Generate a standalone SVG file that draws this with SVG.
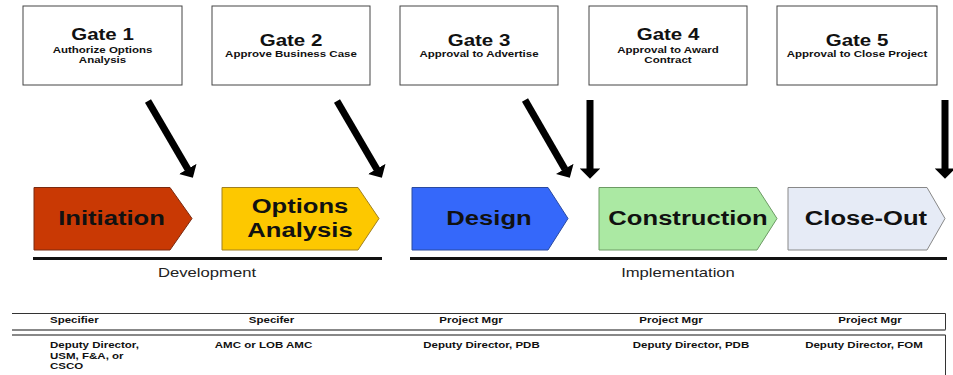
<svg xmlns="http://www.w3.org/2000/svg" width="953" height="375" viewBox="0 0 953 375">
<style>
text{font-family:"Liberation Sans",Arial,sans-serif;fill:#111}
.gbox{fill:#fff;stroke:#444;stroke-width:1}
.gt{font-size:16px;font-weight:bold;text-anchor:middle}
.gs{font-size:9px;font-weight:bold;text-anchor:middle}
.pl{font-size:20px;font-weight:bold;text-anchor:middle}
.bar{stroke:#111;stroke-width:3}
.bl{font-size:13px;text-anchor:middle;fill:#222}
.arr{stroke:#000;stroke-width:7;fill:none;marker-end:url(#ah)}
.tb{font-size:9px;font-weight:bold}
.tm{text-anchor:middle}
.tl{fill:none;stroke:#333;stroke-width:1}
.tg{fill:none;stroke:#888;stroke-width:1.8}
</style>
<defs>
<marker id="ah" viewBox="0 0 10 20" markerWidth="1.5" markerHeight="2.9" refX="0.5" refY="10" orient="auto" markerUnits="strokeWidth">
<path d="M0,0 L10,10 L0,20 z" fill="#000"/>
</marker>
</defs>
<rect width="953" height="375" fill="#fff"/>

<g id="gate1">
<rect class="gbox" x="23" y="6" width="159" height="79"/>
<text class="gt" transform="translate(102.5 40) scale(1.28 1)">Gate 1</text>
<text class="gs" transform="translate(102.5 52.5) scale(1.28 1)">Authorize Options</text>
<text class="gs" transform="translate(102.5 62.5) scale(1.28 1)">Analysis</text>
</g>
<g id="gate2">
<rect class="gbox" x="212" y="6" width="158" height="79"/>
<text class="gt" transform="translate(291 45.5) scale(1.28 1)">Gate 2</text>
<text class="gs" transform="translate(291 57) scale(1.28 1)">Approve Business Case</text>
</g>
<g id="gate3">
<rect class="gbox" x="400" y="6" width="158" height="79"/>
<text class="gt" transform="translate(479 45.5) scale(1.28 1)">Gate 3</text>
<text class="gs" transform="translate(479 57) scale(1.28 1)">Approval to Advertise</text>
</g>
<g id="gate4">
<rect class="gbox" x="589" y="6" width="158" height="79"/>
<text class="gt" transform="translate(668 40) scale(1.28 1)">Gate 4</text>
<text class="gs" transform="translate(668 52.5) scale(1.28 1)">Approval to Award</text>
<text class="gs" transform="translate(668 62.5) scale(1.28 1)">Contract</text>
</g>
<g id="gate5">
<rect class="gbox" x="777" y="6" width="160" height="79"/>
<text class="gt" transform="translate(857 45.5) scale(1.28 1)">Gate 5</text>
<text class="gs" transform="translate(857 57) scale(1.28 1)">Approval to Close Project</text>
</g>

<g id="connectors">
<line class="arr" x1="148" y1="101" x2="188" y2="169.4"/>
<line class="arr" x1="337" y1="101" x2="377" y2="169.4"/>
<line class="arr" x1="525" y1="100" x2="565" y2="169.3"/>
<line class="arr" x1="590" y1="100" x2="590" y2="169"/>
<line class="arr" x1="945" y1="100" x2="945" y2="169"/>
</g>

<g id="phase-initiation">
<polygon points="34,187.5 170,187.5 192,218.5 170,250 34,250" fill="#c93904" stroke="#7a2a10" stroke-width="1"/>
<text class="pl" transform="translate(111.5 224.5) scale(1.28 1)">Initiation</text>
</g>
<g id="phase-options">
<polygon points="222,187.5 358,187.5 379,218.5 358,250 222,250" fill="#fdc800" stroke="#a08020" stroke-width="1"/>
<text class="pl" transform="translate(300 212.5) scale(1.28 1)">Options</text>
<text class="pl" transform="translate(300 237) scale(1.28 1)">Analysis</text>
</g>
<g id="phase-design">
<polygon points="412,187.5 548,187.5 568,218.5 548,250 412,250" fill="#3568fa" stroke="#2a4aa0" stroke-width="1"/>
<text class="pl" transform="translate(489 224.5) scale(1.28 1)">Design</text>
</g>
<g id="phase-construction">
<polygon points="599,187.5 757,187.5 777,218.5 757,250 599,250" fill="#abe9a3" stroke="#6c9a64" stroke-width="1"/>
<text class="pl" transform="translate(688 224.5) scale(1.28 1)">Construction</text>
</g>
<g id="phase-closeout">
<polygon points="788,187.5 927,187.5 945,218.5 927,250 788,250" fill="#e6ebf6" stroke="#888" stroke-width="1"/>
<text class="pl" transform="translate(866 224.5) scale(1.28 1)">Close-Out</text>
</g>

<g id="stages">
<line class="bar" x1="33" y1="258.5" x2="382" y2="258.5"/>
<text class="bl" transform="translate(207 277) scale(1.28 1)">Development</text>
<line class="bar" x1="410" y1="258.5" x2="947" y2="258.5"/>
<text class="bl" transform="translate(678 277) scale(1.28 1)">Implementation</text>
</g>

<g id="table">
<path class="tl" d="M12,313.5 H945.5 V330"/>
<line class="tg" x1="12" y1="330" x2="945.5" y2="330"/>
<line class="tg" x1="12" y1="335" x2="945.5" y2="335"/>
<path class="tl" d="M945.5,335 V375"/>
<text class="tb" transform="translate(50 323) scale(1.28 1)">Specifier</text>
<text class="tb tm" transform="translate(271.5 323) scale(1.28 1)">Specifer</text>
<text class="tb tm" transform="translate(471 323) scale(1.28 1)">Project Mgr</text>
<text class="tb tm" transform="translate(671 323) scale(1.28 1)">Project Mgr</text>
<text class="tb tm" transform="translate(870 323) scale(1.28 1)">Project Mgr</text>
<text class="tb" transform="translate(50 348) scale(1.28 1)">Deputy Director,</text>
<text class="tb" transform="translate(50 358.5) scale(1.28 1)">USM, F&amp;A, or</text>
<text class="tb" transform="translate(50 369) scale(1.28 1)">CSCO</text>
<text class="tb tm" transform="translate(263.5 348) scale(1.28 1)">AMC or LOB AMC</text>
<text class="tb tm" transform="translate(481.5 348) scale(1.28 1)">Deputy Director, PDB</text>
<text class="tb tm" transform="translate(691 348) scale(1.28 1)">Deputy Director, PDB</text>
<text class="tb tm" transform="translate(864 348) scale(1.28 1)">Deputy Director, FOM</text>
</g>
</svg>
